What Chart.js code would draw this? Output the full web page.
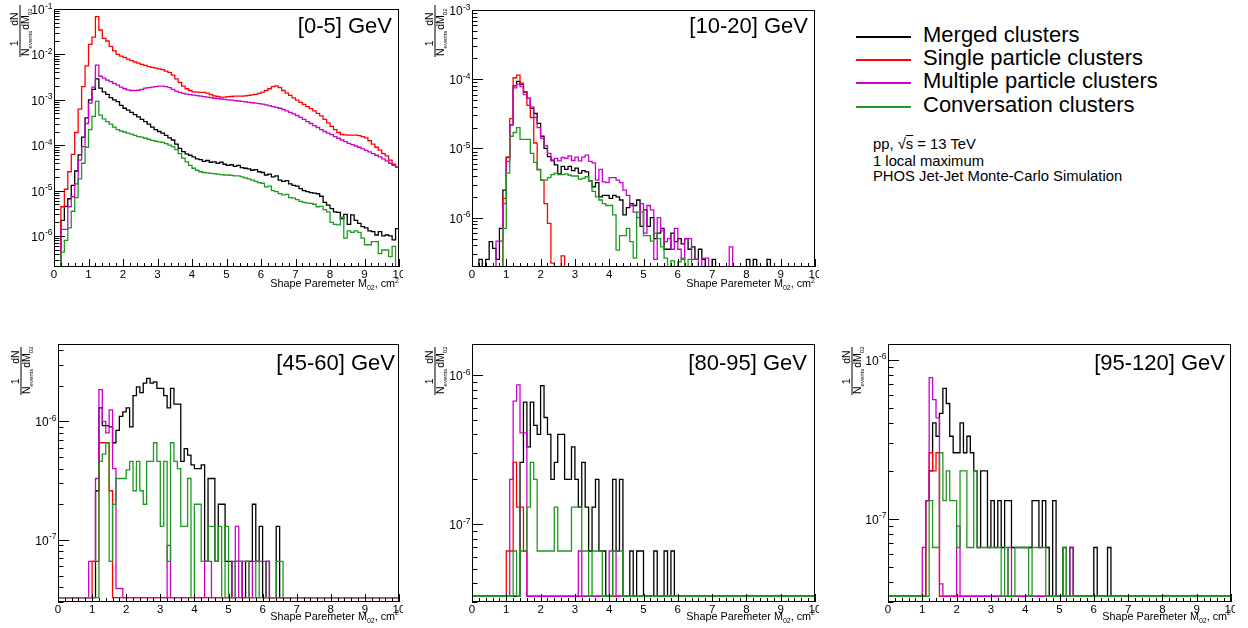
<!DOCTYPE html>
<html>
<head>
<meta charset="utf-8">
<title>Shape parameter M02 by cluster type</title>
<script src="https://cdn.jsdelivr.net/npm/chart.js@4.4.1/dist/chart.umd.min.js"></script>
<style>
  html, body { margin: 0; padding: 0; background: #fff; }
  body { width: 1248px; height: 628px; position: relative; overflow: hidden;
         font-family: "Liberation Sans", Arial, Helvetica, sans-serif; color: #000; }
  .panel { position: absolute; }
  .panel canvas { display: block; }
  .lg-line { position: absolute; left: 856px; width: 55px; height: 2px; }
  .lg-text { position: absolute; left: 923px; font-size: 22px; line-height: 22px; white-space: nowrap; }
  .note { position: absolute; left: 873px; font-size: 14.8px; line-height: 15px; white-space: nowrap; }
  .ovl { text-decoration: overline; }
</style>
</head>
<body>
<div id="legend"></div>
<div class="note" style="top:137px">pp, &#8730;<span class="ovl">s</span> = 13 TeV</div>
<div class="note" style="top:154px">1 local maximum</div>
<div class="note" style="top:169px">PHOS Jet-Jet Monte-Carlo Simulation</div>

<script>
// ---------------------------------------------------------------------------
// Binning: 100 bins of width 0.1 cm^2 on M02 in [0, 10]
// ---------------------------------------------------------------------------
const BIN_WIDTH = 0.1;
const X_MIN = 0;
const X_MAX = 10;
const xTickLabels = ['0', '1', '2', '3', '4', '5', '6', '7', '8', '9', '10'];
const X_MINOR_STEP = 0.2;

const seriesLabels = ['Merged clusters', 'Single particle clusters',
                      'Multiple particle clusters', 'Conversation clusters'];
const seriesColors = ['#000000', '#ff0000', '#cc00cc', '#1f991f'];

// ---------------------------------------------------------------------------
// pT bin [0-5] GeV : 1/N_events dN/dM02 per bin
// ---------------------------------------------------------------------------
const merged_0_5 = [
  0, 0, 2.2e-6, 4.5e-6, 6.6e-6, 1.3e-5, 2.7e-5, 6.1e-5, 1.5e-4, 4e-4,
  1e-3, 1.7e-3, 2.9e-3, 1.8e-3, 1.5e-3, 1.32e-3, 1.12e-3, 1e-3, 9.1e-4, 7.5e-4,
  6.5e-4, 5.9e-4, 5.3e-4, 4.7e-4, 4.2e-4, 3.7e-4, 3.3e-4, 2.9e-4, 2.5e-4, 2.2e-4,
  2e-4, 1.85e-4, 1.65e-4, 1.45e-4, 1.3e-4, 1.05e-4, 8.5e-5, 7.2e-5, 6.4e-5, 6e-5,
  5.5e-5, 5e-5, 4.8e-5, 4.4e-5, 4.6e-5, 4.2e-5, 4.3e-5, 4e-5, 4.2e-5, 3.8e-5,
  3.6e-5, 3.7e-5, 3.4e-5, 3.6e-5, 3.2e-5, 3.1e-5, 3e-5, 2.8e-5, 2.9e-5, 2.6e-5,
  2.5e-5, 2.2e-5, 2.3e-5, 2e-5, 2.1e-5, 1.7e-5, 1.6e-5, 1.65e-5, 1.4e-5, 1.3e-5,
  1.25e-5, 1.1e-5, 1e-5, 9.5e-6, 9e-6, 8.8e-6, 8.5e-6, 7.5e-6, 5.5e-6, 4.8e-6,
  4e-6, 3.4e-6, 3.3e-6, 2.4e-6, 3e-6, 1.8e-6, 2.9e-6, 2.2e-6, 1.9e-6, 1.6e-6,
  1.5e-6, 1.3e-6, 1.25e-6, 1.05e-6, 1.25e-6, 1e-6, 1.05e-6, 1e-6, 8.2e-7, 1.45e-6
];
const single_0_5 = [
  0, 0, 4.4e-6, 1.07e-5, 2.6e-5, 6.3e-5, 1.9e-4, 6.2e-4, 1.95e-3, 5.6e-3,
  1.67e-2, 2.4e-2, 6.8e-2, 3.45e-2, 2.26e-2, 1.97e-2, 1.5e-2, 1.19e-2, 1e-2, 9.2e-3,
  8.6e-3, 7.9e-3, 7.3e-3, 6.8e-3, 6.4e-3, 6e-3, 5.7e-3, 5.4e-3, 5.2e-3, 5e-3,
  4.8e-3, 4.6e-3, 4.3e-3, 4e-3, 3.5e-3, 2.9e-3, 2.4e-3, 2e-3, 1.75e-3, 1.6e-3,
  1.5e-3, 1.47e-3, 1.45e-3, 1.45e-3, 1.4e-3, 1.3e-3, 1.22e-3, 1.18e-3, 1.15e-3, 1.15e-3,
  1.17e-3, 1.18e-3, 1.2e-3, 1.2e-3, 1.2e-3, 1.22e-3, 1.25e-3, 1.28e-3, 1.32e-3, 1.38e-3,
  1.48e-3, 1.6e-3, 1.75e-3, 1.95e-3, 2.03e-3, 1.85e-3, 1.6e-3, 1.4e-3, 1.25e-3, 1.1e-3,
  9.8e-4, 8.8e-4, 7.9e-4, 7.1e-4, 6.4e-4, 5.7e-4, 5e-4, 4.4e-4, 3.7e-4, 3.1e-4,
  2.6e-4, 2.2e-4, 1.9e-4, 1.72e-4, 1.68e-4, 1.67e-4, 1.67e-4, 1.66e-4, 1.63e-4, 1.55e-4,
  1.45e-4, 1.25e-4, 1.05e-4, 9e-5, 7.8e-5, 6.5e-5, 5.8e-5, 4.7e-5, 3.8e-5, 3.3e-5
];
const multi_0_5 = [
  0, 0, 1.4e-6, 1.4e-6, 4.4e-6, 7.3e-6, 1.4e-5, 4.7e-5, 9.3e-5, 3e-4,
  8.4e-4, 1.9e-3, 5.8e-3, 3.3e-3, 3e-3, 2.7e-3, 2.5e-3, 2.3e-3, 2.1e-3, 1.9e-3,
  1.75e-3, 1.65e-3, 1.6e-3, 1.6e-3, 1.62e-3, 1.7e-3, 1.8e-3, 1.85e-3, 1.9e-3, 1.95e-3,
  2e-3, 2e-3, 1.95e-3, 1.85e-3, 1.7e-3, 1.55e-3, 1.45e-3, 1.38e-3, 1.33e-3, 1.3e-3,
  1.26e-3, 1.23e-3, 1.2e-3, 1.17e-3, 1.14e-3, 1.11e-3, 1.08e-3, 1.06e-3, 1.04e-3, 1.02e-3,
  1e-3, 9.8e-4, 9.6e-4, 9.4e-4, 9.2e-4, 9e-4, 8.8e-4, 8.6e-4, 8.4e-4, 8.2e-4,
  8e-4, 7.7e-4, 7.4e-4, 7.1e-4, 6.8e-4, 6.5e-4, 6.1e-4, 5.7e-4, 5.3e-4, 4.9e-4,
  4.5e-4, 4.1e-4, 3.7e-4, 3.3e-4, 3e-4, 2.7e-4, 2.45e-4, 2.2e-4, 2e-4, 1.85e-4,
  1.7e-4, 1.55e-4, 1.42e-4, 1.3e-4, 1.2e-4, 1.1e-4, 1.03e-4, 9.6e-5, 9e-5, 8.3e-5,
  7.7e-5, 7.1e-5, 6.5e-5, 6e-5, 5.5e-5, 5e-5, 4.5e-5, 4e-5, 3.6e-5, 3.3e-5
];
const conv_0_5 = [
  0, 0, 4.4e-7, 8e-7, 1.5e-6, 3.5e-6, 7e-6, 1.8e-5, 4e-5, 9e-5,
  2.2e-4, 4.3e-4, 9.2e-4, 4.6e-4, 3.8e-4, 3.3e-4, 2.9e-4, 2.5e-4, 2.2e-4, 2.05e-4,
  1.95e-4, 1.85e-4, 1.75e-4, 1.65e-4, 1.55e-4, 1.5e-4, 1.42e-4, 1.35e-4, 1.28e-4, 1.22e-4,
  1.18e-4, 1.15e-4, 1.08e-4, 1e-4, 9.3e-5, 8e-5, 6.5e-5, 5.2e-5, 4.3e-5, 3.6e-5,
  3.1e-5, 2.8e-5, 2.6e-5, 2.5e-5, 2.45e-5, 2.4e-5, 2.35e-5, 2.3e-5, 2.25e-5, 2.2e-5,
  2.2e-5, 2.15e-5, 2.1e-5, 2.1e-5, 2e-5, 1.9e-5, 1.8e-5, 1.7e-5, 1.6e-5, 1.5e-5,
  1.45e-5, 1.2e-5, 1.25e-5, 1e-5, 9.5e-6, 8.6e-6, 8e-6, 8.2e-6, 7e-6, 6.8e-6,
  6.3e-6, 5.8e-6, 5.5e-6, 5.3e-6, 5.2e-6, 5e-6, 4.4e-6, 4.5e-6, 3.8e-6, 3.4e-6,
  2e-6, 1.8e-6, 1.75e-6, 2.6e-6, 9e-7, 1.3e-6, 1.2e-6, 1.3e-6, 1.2e-6, 9e-7,
  6.4e-7, 6.4e-7, 7.5e-7, 7.5e-7, 4.1e-7, 4.9e-7, 4.9e-7, 3.5e-7, 5.9e-7, 0
];

// ---------------------------------------------------------------------------
// pT bin [10-20] GeV
// ---------------------------------------------------------------------------
const merged_10_20 = [
  0, 0, 2.5e-7, 0, 2.5e-7, 4.5e-7, 3.6e-7, 2.5e-7, 7e-7, 2.5e-6,
  7.5e-6, 2.2e-5, 8e-5, 9.3e-5, 8.4e-5, 6.5e-5, 5.3e-5, 3.8e-5, 3.2e-5, 2.3e-5,
  1.5e-5, 1e-5, 7.6e-6, 6.8e-6, 5.8e-6, 4.3e-6, 5.5e-6, 5e-6, 5.5e-6, 4.8e-6,
  5.2e-6, 4.4e-6, 4.8e-6, 4.6e-6, 3.4e-6, 2.8e-6, 3.2e-6, 2e-6, 2.1e-6, 2.1e-6,
  1.9e-6, 2.1e-6, 2e-6, 1.8e-6, 1.1e-6, 1.4e-6, 1.6e-6, 1.5e-6, 1.8e-6, 7.5e-7,
  1.3e-6, 7.5e-7, 1e-6, 5e-7, 6e-7, 7e-7, 3.5e-7, 3.5e-7, 6e-7, 4.5e-7,
  5e-7, 4.2e-7, 5e-7, 3.5e-7, 3.8e-7, 2.5e-7, 3.5e-7, 2.5e-7, 0, 0,
  2.5e-7, 0, 0, 0, 0, 0, 0, 0, 0, 0,
  2.5e-7, 0, 2.5e-7, 0, 0, 0, 2.5e-7, 0, 0, 0,
  0, 0, 0, 0, 0, 0, 0, 0, 0, 0
];
const single_10_20 = [
  0, 0, 0, 0, 0, 0, 0, 0, 0, 1.9e-6,
  7.4e-6, 2.7e-5, 1.05e-4, 1.15e-4, 8.8e-5, 6.6e-5, 4.2e-5, 2.8e-5, 1.2e-5, 4.9e-6,
  3.5e-6, 1.6e-6, 8.3e-7, 2.2e-7, 0, 0, 2.8e-7, 0, 0, 0,
  0, 0, 0, 0, 0, 0, 0, 0, 0, 0,
  0, 0, 0, 0, 0, 0, 0, 0, 0, 0,
  0, 0, 0, 0, 0, 0, 0, 0, 0, 0,
  0, 0, 0, 0, 0, 0, 0, 0, 0, 0,
  0, 0, 0, 0, 0, 0, 0, 0, 0, 0,
  0, 0, 0, 0, 0, 0, 0, 0, 0, 0,
  0, 0, 0, 0, 0, 0, 0, 0, 0, 0
];
const multi_10_20 = [
  0, 0, 0, 0, 0, 0, 0, 4.6e-7, 4.6e-7, 1.6e-6,
  6.5e-6, 2.2e-5, 7.5e-5, 8.5e-5, 7.8e-5, 6e-5, 5.3e-5, 4e-5, 2.8e-5, 2e-5,
  1.4e-5, 1.1e-5, 8.5e-6, 6.6e-6, 7.2e-6, 6.6e-6, 7.4e-6, 7.2e-6, 7.8e-6, 6.7e-6,
  7.5e-6, 6.6e-6, 7.5e-6, 8e-6, 6.5e-6, 6.2e-6, 3.5e-6, 5e-6, 3.3e-6, 3.2e-6,
  3.8e-6, 3.8e-6, 3.5e-6, 3.2e-6, 2.5e-6, 2.1e-6, 1.5e-6, 1.2e-6, 1e-6, 1.6e-6,
  6e-7, 1.5e-6, 1.3e-6, 2.5e-7, 1e-6, 6.5e-7, 4.5e-7, 5e-7, 3.5e-7, 7e-7,
  3.5e-7, 2.5e-7, 5e-7, 5e-7, 2.5e-7, 2.5e-7, 0, 2.6e-7, 2.6e-7, 0,
  0, 0, 0, 0, 0, 3.8e-7, 0, 0, 0, 0,
  0, 0, 0, 0, 0, 0, 0, 0, 0, 0,
  0, 0, 0, 0, 0, 0, 0, 0, 0, 0
];
const conv_10_20 = [
  0, 0, 0, 0, 0, 0, 0, 0, 0, 7e-7,
  4.4e-6, 1.5e-5, 1.7e-5, 2e-5, 1.35e-5, 1.35e-5, 1.35e-5, 8.5e-6, 6.3e-6, 5e-6,
  3.5e-6, 3.5e-6, 3.8e-6, 4.2e-6, 4.4e-6, 4.2e-6, 4.2e-6, 4.3e-6, 4.1e-6, 4e-6,
  4e-6, 3.6e-6, 3.7e-6, 3.9e-6, 3.4e-6, 2.4e-6, 2e-6, 1.8e-6, 1.6e-6, 1.5e-6,
  1.5e-6, 1.1e-6, 3.4e-7, 5.5e-7, 5.5e-7, 7e-7, 4.5e-7, 2.6e-7, 1.2e-6, 1.2e-6,
  5.5e-7, 5.5e-7, 4.6e-7, 6e-7, 5e-7, 3.8e-7, 2.6e-7, 0, 2.4e-7, 0,
  2.3e-7, 2.6e-7, 0, 2.5e-7, 0, 0, 0, 0, 0, 0,
  0, 0, 0, 0, 0, 0, 0, 0, 0, 0,
  0, 0, 0, 0, 0, 0, 0, 0, 0, 0,
  0, 0, 0, 0, 0, 0, 0, 0, 0, 0
];

// ---------------------------------------------------------------------------
// pT bin [45-60] GeV
// ---------------------------------------------------------------------------
const merged_45_60 = [
  0, 0, 0, 0, 0, 0, 0, 0, 0, 0,
  0, 2.6e-7, 1.3e-6, 9.2e-7, 9.2e-7, 9e-7, 6.6e-7, 8.4e-7, 1.1e-6, 1.2e-6,
  1.3e-6, 9e-7, 1.65e-6, 1.95e-6, 1.75e-6, 2.1e-6, 2.3e-6, 2.1e-6, 2.15e-6, 1.9e-6,
  1.9e-6, 1.65e-6, 1.3e-6, 1.9e-6, 1.4e-6, 1.4e-6, 4.6e-7, 5.9e-7, 5.2e-7, 4.3e-7,
  4e-7, 4e-7, 4.3e-7, 6.6e-8, 3.3e-7, 3.3e-7, 6.6e-8, 2e-7, 2e-7, 6.6e-8,
  6.6e-8, 0, 6.6e-8, 6.6e-8, 0, 6.6e-8, 6.6e-8, 2e-7, 6.6e-8, 1.3e-7,
  0, 6.6e-8, 0, 0, 1.3e-7, 0, 0, 0, 0, 0,
  0, 0, 0, 0, 0, 0, 0, 0, 0, 0,
  0, 0, 0, 0, 0, 0, 0, 0, 0, 0,
  0, 0, 0, 0, 0, 0, 0, 0, 0, 0
];
const single_45_60 = [
  0, 0, 0, 0, 0, 0, 0, 0, 0, 0,
  6.6e-8, 6.6e-8, 6.6e-7, 6.6e-7, 6.6e-7, 2.6e-7, 0, 0, 0, 0,
  0, 0, 0, 0, 0, 0, 0, 0, 0, 0,
  0, 0, 0, 0, 0, 0, 0, 0, 0, 0,
  0, 0, 0, 0, 0, 0, 0, 0, 0, 0,
  0, 0, 0, 0, 0, 0, 0, 0, 0, 0,
  0, 0, 0, 0, 0, 0, 0, 0, 0, 0,
  0, 0, 0, 0, 0, 0, 0, 0, 0, 0,
  0, 0, 0, 0, 0, 0, 0, 0, 0, 0,
  0, 0, 0, 0, 0, 0, 0, 0, 0, 0
];
const multi_45_60 = [
  0, 0, 0, 0, 0, 0, 0, 0, 0, 6.6e-8,
  6.6e-8, 3.3e-7, 1.85e-6, 1e-6, 8e-7, 1.25e-6, 4e-7, 3.9e-8, 3.9e-8, 0,
  0, 0, 0, 0, 0, 0, 0, 0, 0, 0,
  0, 0, 9e-8, 0, 0, 0, 0, 0, 0, 0,
  0, 0, 0, 6.6e-8, 6.6e-8, 0, 0, 0, 0, 0,
  0, 6.6e-8, 1.3e-7, 0, 6.6e-8, 6.6e-8, 0, 6.6e-8, 6.6e-8, 6.6e-8,
  6.6e-8, 6.6e-8, 0, 0, 0, 0, 0, 0, 0, 0,
  0, 0, 0, 0, 0, 0, 0, 0, 0, 0,
  0, 0, 0, 0, 0, 0, 0, 0, 0, 0,
  0, 0, 0, 0, 0, 0, 0, 0, 0, 0
];
const conv_45_60 = [
  0, 0, 0, 0, 0, 0, 0, 0, 0, 0,
  0, 0, 4.6e-7, 5.3e-7, 6.6e-7, 6.6e-8, 2e-7, 3.3e-7, 3.3e-7, 3.3e-7,
  3.9e-7, 4.6e-7, 2.6e-7, 4.6e-7, 2.6e-7, 2e-7, 4.6e-7, 4.6e-7, 6.6e-7, 4.6e-7,
  1.3e-7, 4.6e-7, 6.6e-8, 6.6e-7, 4.6e-7, 4e-7, 1.3e-7, 1.3e-7, 3.3e-7, 0,
  2e-7, 2e-7, 6.6e-8, 6.6e-8, 1.3e-7, 1.3e-7, 6.6e-8, 1.3e-7, 0, 1.3e-7,
  0, 0, 6.6e-8, 6.6e-8, 6.6e-8, 6.6e-8, 0, 0, 6.6e-8, 0,
  0, 0, 0, 0, 6.6e-8, 6.6e-8, 0, 0, 0, 0,
  0, 0, 0, 0, 0, 0, 0, 0, 0, 0,
  0, 0, 0, 0, 0, 0, 0, 0, 0, 0,
  0, 0, 0, 0, 0, 0, 0, 0, 0, 0
];

// ---------------------------------------------------------------------------
// pT bin [80-95] GeV
// ---------------------------------------------------------------------------
const merged_80_95 = [
  0, 0, 0, 0, 0, 0, 0, 0, 0, 0,
  0, 0, 0, 0, 2.6e-7, 6.6e-7, 3.3e-7, 6.6e-7, 4.6e-7, 4e-7,
  8.5e-7, 5.2e-7, 4e-7, 2e-7, 2.6e-7, 4e-7, 4e-7, 2e-7, 2e-7, 3.3e-7,
  2e-7, 1.3e-7, 2.6e-7, 1.3e-7, 6.6e-8, 1.3e-7, 2e-7, 6.6e-8, 6.6e-8, 0,
  0, 2e-7, 6.6e-8, 2e-7, 0, 0, 6.6e-8, 0, 6.6e-8, 6.6e-8,
  0, 0, 0, 6.6e-8, 0, 0, 6.6e-8, 0, 6.6e-8, 0,
  0, 0, 0, 0, 0, 0, 0, 0, 0, 0,
  0, 0, 0, 0, 0, 0, 0, 0, 0, 0,
  0, 0, 0, 0, 0, 0, 0, 0, 0, 0,
  0, 0, 0, 0, 0, 0, 0, 0, 0, 0
];
const single_80_95 = [
  0, 0, 0, 0, 0, 0, 0, 0, 0, 0,
  6.6e-8, 6.6e-8, 2.6e-7, 1.3e-7, 1.3e-7, 6.6e-8, 0, 0, 0, 0,
  0, 0, 0, 0, 0, 0, 0, 0, 0, 0,
  0, 0, 0, 0, 0, 0, 0, 0, 0, 0,
  0, 0, 0, 0, 0, 0, 0, 0, 0, 0,
  0, 0, 0, 0, 0, 0, 0, 0, 0, 0,
  0, 0, 0, 0, 0, 0, 0, 0, 0, 0,
  0, 0, 0, 0, 0, 0, 0, 0, 0, 0,
  0, 0, 0, 0, 0, 0, 0, 0, 0, 0,
  0, 0, 0, 0, 0, 0, 0, 0, 0, 0
];
const multi_80_95 = [
  0, 0, 0, 0, 0, 0, 0, 0, 0, 0,
  0, 2e-7, 6.7e-7, 8.6e-7, 4.1e-7, 4.1e-7, 0, 0, 0, 0,
  0, 0, 0, 0, 0, 0, 0, 0, 0, 0,
  0, 6.6e-8, 0, 0, 0, 0, 0, 0, 0, 0,
  6.6e-8, 6.6e-8, 0, 0, 0, 0, 0, 0, 0, 0,
  0, 0, 0, 0, 0, 0, 0, 0, 0, 0,
  0, 0, 0, 0, 0, 0, 0, 0, 0, 0,
  0, 0, 0, 0, 0, 0, 0, 0, 0, 0,
  0, 0, 0, 0, 0, 0, 0, 0, 0, 0,
  0, 0, 0, 0, 0, 0, 0, 0, 0, 0
];
const conv_80_95 = [
  0, 0, 0, 0, 0, 0, 0, 0, 0, 0,
  0, 0, 6.6e-8, 0, 6.6e-8, 6.6e-8, 1.3e-7, 2.6e-7, 2e-7, 6.6e-8,
  6.6e-8, 6.6e-8, 6.6e-8, 6.6e-8, 1.3e-7, 6.6e-8, 6.6e-8, 6.6e-8, 6.6e-8, 1.3e-7,
  1.3e-7, 1.3e-7, 6.6e-8, 6.6e-8, 0, 6.6e-8, 6.6e-8, 6.6e-8, 0, 0,
  0, 6.6e-8, 6.6e-8, 6.6e-8, 0, 0, 0, 0, 0, 0,
  0, 0, 0, 0, 0, 0, 0, 0, 0, 0,
  0, 0, 0, 0, 0, 0, 0, 0, 0, 0,
  0, 0, 0, 0, 0, 0, 0, 0, 0, 0,
  0, 0, 0, 0, 0, 0, 0, 0, 0, 0,
  0, 0, 0, 0, 0, 0, 0, 0, 0, 0
];

// ---------------------------------------------------------------------------
// pT bin [95-120] GeV
// ---------------------------------------------------------------------------
const merged_95_120 = [
  0, 0, 0, 0, 0, 0, 0, 0, 0, 0,
  0, 1.3e-7, 2e-7, 4e-7, 3.3e-7, 4.6e-7, 6.6e-7, 5.3e-7, 3.3e-7, 2.6e-7,
  2.6e-7, 4e-7, 2.6e-7, 3.3e-7, 2.6e-7, 2e-7, 6.6e-8, 2e-7, 2e-7, 6.6e-8,
  1.3e-7, 6.6e-8, 1.3e-7, 6.6e-8, 1.3e-7, 1.3e-7, 6.6e-8, 6.6e-8, 6.6e-8, 6.6e-8,
  6.6e-8, 6.6e-8, 1.3e-7, 1.3e-7, 6.6e-8, 1.3e-7, 6.6e-8, 0, 1.3e-7, 0,
  0, 6.6e-8, 0, 6.6e-8, 0, 0, 0, 0, 0, 0,
  6.6e-8, 0, 0, 0, 6.6e-8, 0, 0, 0, 0, 0,
  0, 0, 0, 0, 0, 0, 0, 0, 0, 0,
  0, 0, 0, 0, 0, 0, 0, 0, 0, 0,
  0, 0, 0, 0, 0, 0, 0, 0, 0, 0
];
const single_95_120 = [
  0, 0, 0, 0, 0, 0, 0, 0, 0, 0,
  0, 1.3e-7, 2.6e-7, 2e-7, 2.6e-7, 0, 0, 0, 0, 0,
  0, 0, 0, 0, 0, 0, 0, 0, 0, 0,
  0, 0, 0, 0, 0, 0, 0, 0, 0, 0,
  0, 0, 0, 0, 0, 0, 0, 0, 0, 0,
  0, 0, 0, 0, 0, 0, 0, 0, 0, 0,
  0, 0, 0, 0, 0, 0, 0, 0, 0, 0,
  0, 0, 0, 0, 0, 0, 0, 0, 0, 0,
  0, 0, 0, 0, 0, 0, 0, 0, 0, 0,
  0, 0, 0, 0, 0, 0, 0, 0, 0, 0
];
const multi_95_120 = [
  0, 0, 0, 0, 0, 0, 0, 0, 0, 0,
  6.6e-8, 1.3e-7, 7.7e-7, 5.6e-7, 4.3e-7, 3.9e-8, 0, 0, 0, 0,
  9e-8, 0, 0, 0, 0, 0, 0, 0, 0, 0,
  0, 0, 0, 0, 0, 6.6e-8, 0, 0, 0, 0,
  0, 0, 0, 0, 0, 0, 0, 0, 0, 0,
  0, 0, 0, 6.6e-8, 0, 0, 0, 0, 0, 0,
  0, 0, 0, 0, 0, 0, 0, 0, 0, 0,
  0, 0, 0, 0, 0, 0, 0, 0, 0, 0,
  0, 0, 0, 0, 0, 0, 0, 0, 0, 0,
  0, 0, 0, 0, 0, 0, 0, 0, 0, 0
];
const conv_95_120 = [
  0, 0, 0, 0, 0, 0, 0, 0, 0, 0,
  0, 0, 1.3e-7, 6.6e-8, 6.6e-8, 2.6e-7, 1.3e-7, 2e-7, 1.3e-7, 1.3e-7,
  6.6e-8, 2e-7, 2e-7, 6.6e-8, 6.6e-8, 2e-7, 6.6e-8, 6.6e-8, 6.6e-8, 6.6e-8,
  6.6e-8, 6.6e-8, 6.6e-8, 0, 6.6e-8, 0, 0, 6.6e-8, 6.6e-8, 6.6e-8,
  6.6e-8, 0, 6.6e-8, 6.6e-8, 6.6e-8, 6.6e-8, 0, 0, 0, 0,
  0, 6.6e-8, 0, 0, 0, 0, 0, 0, 0, 0,
  0, 0, 0, 0, 0, 0, 0, 0, 0, 0,
  0, 0, 0, 0, 0, 0, 0, 0, 0, 0,
  0, 0, 0, 0, 0, 0, 0, 0, 0, 0,
  0, 0, 0, 0, 0, 0, 0, 0, 0, 0
];

// Decade exponents labelled on each log axis
const yDecades_0_5 = [-1, -2, -3, -4, -5, -6];
const yDecades_10_20 = [-3, -4, -5, -6];
const yDecades_45_60 = [-6, -7];
const yDecades_80_95 = [-6, -7];
const yDecades_95_120 = [-6, -7];

// ---------------------------------------------------------------------------
// Pad layout (page pixels) and axis ranges
// ---------------------------------------------------------------------------
const panels = [
  { title: '[0-5] GeV', box: [0, 0, 403, 300], area: [54, 9, 399, 267],
    yMin: 2.07e-7, yMax: 1e-1, decades: yDecades_0_5,
    titleRight: 392, titleBase: 33, yTitle: [20, 5, 57], xTitleGap: 20,
    series: [merged_0_5, single_0_5, multi_0_5, conv_0_5] },
  { title: '[10-20] GeV', box: [415, 0, 404, 300], area: [472, 10, 815, 267],
    yMin: 1.94e-7, yMax: 1e-3, decades: yDecades_10_20,
    titleRight: 808, titleBase: 33, yTitle: [435, 5, 57], xTitleGap: 20,
    series: [merged_10_20, single_10_20, multi_10_20, conv_10_20] },
  { title: '[45-60] GeV', box: [0, 330, 403, 298], area: [58, 344, 399, 602],
    yMin: 3.26e-8, yMax: 4.49e-6, decades: yDecades_45_60,
    titleRight: 395, titleBase: 370, yTitle: [21, 347, 395], xTitleGap: 17.5,
    series: [merged_45_60, single_45_60, multi_45_60, conv_45_60] },
  { title: '[80-95] GeV', box: [415, 330, 404, 298], area: [472, 344, 815, 602],
    yMin: 3.28e-8, yMax: 1.62e-6, decades: yDecades_80_95,
    titleRight: 807, titleBase: 370, yTitle: [435, 347, 395], xTitleGap: 17.5,
    series: [merged_80_95, single_80_95, multi_80_95, conv_80_95] },
  { title: '[95-120] GeV', box: [830, 330, 405, 298], area: [888, 344, 1231, 602],
    yMin: 3.26e-8, yMax: 1.254e-6, decades: yDecades_95_120,
    titleRight: 1225, titleBase: 370, yTitle: [852, 347, 395], xTitleGap: 17.5,
    series: [merged_95_120, single_95_120, multi_95_120, conv_95_120] }
];

const FONT = '"Liberation Sans", Arial, Helvetica, sans-serif';

// Histogram outline: one point per lower bin edge plus the upper edge of the
// last bin; empty bins sit on the axis floor as in a log-scale ROOT frame.
function histogramPoints(values, floor) {
  const pts = values.map((v, i) => ({ x: i * BIN_WIDTH, y: v > 0 ? v : floor }));
  pts.push({ x: X_MAX, y: pts[pts.length - 1].y });
  return pts;
}

function hLine(ctx, x1, y1, x2, y2) {
  ctx.beginPath(); ctx.moveTo(x1, y1); ctx.lineTo(x2, y2); ctx.stroke();
}

// 10^n label, right-aligned at xRight, centred on the tick
function drawPower(ctx, exp, xRight, yTick) {
  const expText = String(exp);
  ctx.font = '8.5px ' + FONT;
  const ew = ctx.measureText(expText).width;
  ctx.font = '12px ' + FONT;
  const bw = ctx.measureText('10').width;
  ctx.textAlign = 'left';
  ctx.textBaseline = 'alphabetic';
  ctx.fillText('10', xRight - ew - bw - 0.3, yTick + 5);
  ctx.font = '8.5px ' + FONT;
  ctx.fillText(expText, xRight - ew, yTick - 0.5);
}

// Rotated fraction  1/N_events dN/dM_02
function drawYTitle(ctx, xBar, yTop, yBottom) {
  const L = yBottom - yTop;
  ctx.save();
  ctx.translate(xBar, yBottom);
  ctx.rotate(-Math.PI / 2);
  ctx.strokeStyle = '#000';
  ctx.lineWidth = 1;
  hLine(ctx, 0, 0, L, 0);
  const big = '10.5px ' + FONT, small = '6px ' + FONT;
  ctx.textAlign = 'left';
  ctx.textBaseline = 'alphabetic';
  let cx = 1;
  ctx.font = big; ctx.fillText('N', cx, 9); cx += ctx.measureText('N').width;
  ctx.font = small; ctx.fillText('events', cx, 11.5); cx += ctx.measureText('events').width;
  const firstEnd = cx;
  cx += 1;
  const dmStart = cx;
  ctx.font = big; ctx.fillText('dM', cx, 9); cx += ctx.measureText('dM').width;
  ctx.font = small; ctx.fillText('02', cx, 11.5); cx += ctx.measureText('02').width;
  ctx.font = big;
  ctx.textAlign = 'center';
  ctx.fillText('1', (1 + firstEnd) / 2, -2.5);
  ctx.fillText('dN', (dmStart + cx) / 2, -2.5);
  ctx.restore();
}

// "Shape Paremeter M_02, cm^2" right-aligned under the axis
function drawXTitle(ctx, xRight, base) {
  const big = '10.8px ' + FONT, small = '7px ' + FONT;
  const parts = [
    { t: 'Shape Paremeter M', f: big, dy: 0 },
    { t: '02', f: small, dy: 3 },
    { t: ', cm', f: big, dy: 0 },
    { t: '2', f: small, dy: -4.5 }
  ];
  let total = 0;
  parts.forEach(p => { ctx.font = p.f; p.w = ctx.measureText(p.t).width; total += p.w; });
  let x = xRight - total;
  ctx.textAlign = 'left';
  ctx.textBaseline = 'alphabetic';
  parts.forEach(p => { ctx.font = p.f; ctx.fillText(p.t, x, base + p.dy); x += p.w; });
}

const panelByCanvas = new Map();

const rootFrame = {
  id: 'rootFrame',
  afterDatasetsDraw(chart) {
    const p = panelByCanvas.get(chart.canvas);
    if (!p) return;
    const { ctx, chartArea: a } = chart;
    const xs = chart.scales.x, ys = chart.scales.y;
    const ox = p.box[0], oy = p.box[1];
    ctx.save();
    ctx.strokeStyle = '#000';
    ctx.fillStyle = '#000';
    ctx.lineWidth = 1;

    // frame
    ctx.strokeRect(a.left + 0.5, a.top + 0.5, a.right - a.left - 1, a.bottom - a.top - 1);

    // x ticks (inside, along the bottom)
    const nMinor = Math.round((X_MAX - X_MIN) / X_MINOR_STEP);
    for (let k = 0; k <= nMinor; k++) {
      const v = X_MIN + k * X_MINOR_STEP;
      const px = Math.round(xs.getPixelForValue(v)) + 0.5;
      const major = Math.abs(v - Math.round(v)) < 1e-6;
      hLine(ctx, px, a.bottom, px, a.bottom - (major ? 8 : 4));
    }
    ctx.font = '11.5px ' + FONT;
    ctx.textAlign = 'center';
    ctx.textBaseline = 'alphabetic';
    xTickLabels.forEach(lbl => {
      ctx.fillText(lbl, xs.getPixelForValue(Number(lbl)), a.bottom + 10.5);
    });

    // y ticks: decades long, 2..9 short
    const lo = Math.floor(Math.log10(ys.min)), hi = Math.ceil(Math.log10(ys.max));
    for (let d = lo; d <= hi; d++) {
      for (let m = 1; m <= 9; m++) {
        const v = m * Math.pow(10, d);
        if (v < ys.min * 0.999 || v > ys.max * 1.001) continue;
        const py = Math.round(ys.getPixelForValue(v)) + 0.5;
        hLine(ctx, a.left, py, a.left + (m === 1 ? 11 : 5.5), py);
      }
    }
    p.decades.forEach(d => {
      drawPower(ctx, d, a.left - 1.5, ys.getPixelForValue(Math.pow(10, d)));
    });

    // titles
    ctx.font = '22px ' + FONT;
    ctx.textAlign = 'right';
    ctx.textBaseline = 'alphabetic';
    ctx.fillText(p.title, p.titleRight - ox, p.titleBase - oy);
    drawXTitle(ctx, a.right, a.bottom + p.xTitleGap);
    drawYTitle(ctx, p.yTitle[0] - ox, p.yTitle[1] - oy, p.yTitle[2] - oy);
    ctx.restore();
  }
};

// Build one Chart.js chart per pT bin
panels.forEach(p => {
  const [bx, by, bw, bh] = p.box;
  const [al, at, ar, ab] = p.area;
  const holder = document.createElement('div');
  holder.className = 'panel';
  holder.style.left = bx + 'px';
  holder.style.top = by + 'px';
  holder.style.width = bw + 'px';
  holder.style.height = bh + 'px';
  const canvas = document.createElement('canvas');
  canvas.width = bw;
  canvas.height = bh;
  canvas.style.width = bw + 'px';
  canvas.style.height = bh + 'px';
  holder.appendChild(canvas);
  document.body.appendChild(holder);
  panelByCanvas.set(canvas, p);

  // drawing order: black at the bottom, green on top
  const order = [3, 2, 1, 0];
  const datasets = order.map(i => ({
    label: seriesLabels[i],
    data: histogramPoints(p.series[i], p.yMin),
    borderColor: seriesColors[i],
    backgroundColor: seriesColors[i],
    borderWidth: 1.3,
    stepped: 'before',   // value of point i holds over [x_i, x_i+1)
    pointRadius: 0,
    fill: false,
    tension: 0
  }));

  new Chart(canvas, {
    type: 'line',
    data: { datasets },
    options: {
      responsive: false,
      animation: false,
      devicePixelRatio: 1,
      layout: { padding: { left: al - bx, top: at - by, right: bx + bw - ar, bottom: by + bh - ab } },
      scales: {
        x: { type: 'linear', min: X_MIN, max: X_MAX, display: false },
        y: { type: 'logarithmic', min: p.yMin, max: p.yMax, display: false }
      },
      plugins: { legend: { display: false }, tooltip: { enabled: false } },
      events: []
    },
    plugins: [rootFrame]
  });
});

// Legend block
const legendLineY = [36, 59, 82, 106];
const legendEl = document.getElementById('legend');
seriesLabels.forEach((name, i) => {
  const line = document.createElement('div');
  line.className = 'lg-line';
  line.style.top = legendLineY[i] + 'px';
  line.style.backgroundColor = seriesColors[i];
  legendEl.appendChild(line);
  const txt = document.createElement('div');
  txt.className = 'lg-text';
  txt.style.top = (legendLineY[i] - 12.5) + 'px';
  txt.textContent = name;
  legendEl.appendChild(txt);
});
</script>
</body>
</html>
